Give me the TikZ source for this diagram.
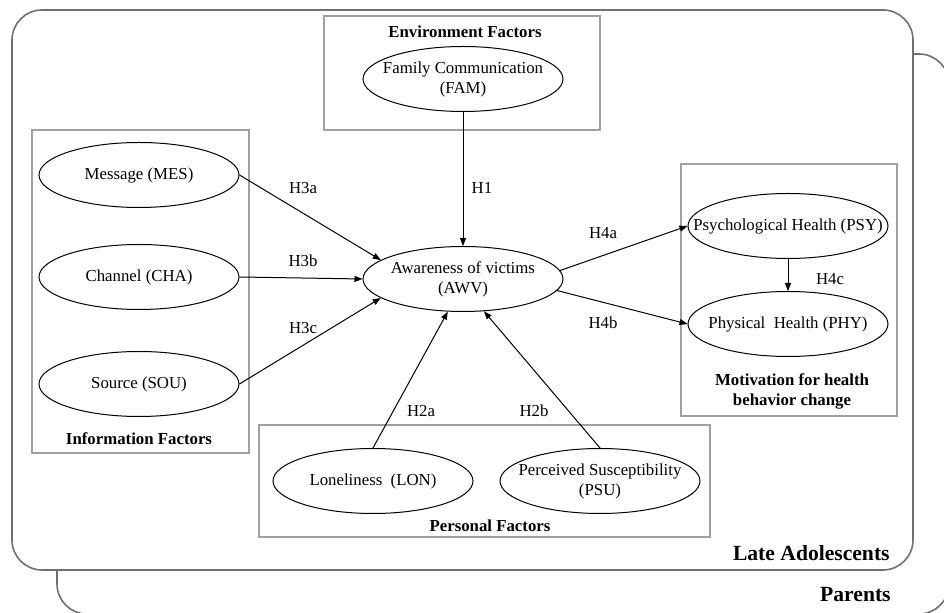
\documentclass[tikz,border=0pt]{standalone}
\usepackage{fontspec}
\setmainfont{Liberation Serif}
\usetikzlibrary{positioning,arrows.meta,shapes.geometric}
\definecolor{boxgray}{HTML}{A0A0A0}
\definecolor{framegray}{HTML}{707070}

\begin{document}
\begin{tikzpicture}[x=0.5pt, y=-0.5pt,
      font=\fontsize{8.4}{10}\selectfont,
      construto/.style={draw, ellipse, line width=0.5pt, minimum width=100pt,
                        minimum height=32.5pt, inner xsep=-12pt, inner ysep=0pt, align=center},
      grupo/.style={draw=boxgray, line width=0.6pt},
      moldura/.style={draw=framegray, line width=0.8pt, rounded corners=15pt, fill=white},
      titulo/.style={font=\fontsize{8.4}{10}\selectfont\bfseries, align=center, inner sep=0pt},
      seta/.style={-{Triangle[length=4pt,width=3pt]}, line width=0.5pt},
      hip/.style={inner sep=0pt}]
    \useasboundingbox (0,0) rectangle (944,613);
    % two populations
    \draw[moldura] (57,54) rectangle (949,614);
    \draw[moldura] (12,10) rectangle (913,570);
    \node[titulo, anchor=east, font=\fontsize{10.8}{12}\selectfont\bfseries] (la) at (890,553) {Late Adolescents};
    \node[titulo, anchor=east, font=\fontsize{10.8}{12}\selectfont\bfseries] (pa) at (891,595) {Parents};
    % factor groups
    \draw[grupo] (324,16) rectangle (600,130);
    \draw[grupo] (32,130) rectangle (249,453);
    \draw[grupo] (681,164) rectangle (897,416);
    \draw[grupo] (259,425) rectangle (710,537);
    \node[titulo] (envt) at (465,32) {Environment Factors};
    \node[titulo] (inft) at (139,439) {Information Factors};
    \node[titulo] (mott) at (792,391) {Motivation for health\\behavior change};
    \node[titulo] (pert) at (490,526) {Personal Factors};
    % constructs
    \node[construto] (fam) at (463,79) {Family Communication\\(FAM)};
    \node[construto] (mes) at (139,175) {Message (MES)};
    \node[construto] (cha) at (139,277) {Channel (CHA)};
    \node[construto] (sou) at (139,384) {Source (SOU)};
    \node[construto] (awv) at (463,279) {Awareness of victims\\(AWV)};
    \node[construto] (psy) at (788,226) {Psychological Health (PSY)};
    \node[construto] (phy) at (788,324) {Physical\ \ Health (PHY)};
    \node[construto] (lon) at (373,481) {Loneliness\ \ (LON)};
    \node[construto] (psu) at (600,481) {Perceived Susceptibility\\(PSU)};
    % hypotheses
    \draw[seta] (fam) -- (awv);
    \draw[seta] (mes.east) -- (awv.167);
    \draw[seta] (cha.east) -- (awv.west);
    \draw[seta] (sou.east) -- (awv.193);
    \draw[seta] (lon.north) -- (awv.245);
    \draw[seta] (psu.north) -- (awv.303);
    \draw[seta] (awv.5) -- (psy.west);
    \draw[seta] (awv.353) -- (phy.west);
    \draw[seta] (psy) -- (phy);
    \node[hip] (h1) at (482,188) {H1};
    \node[hip] (h3a) at (303,188) {H3a};
    \node[hip] (h3b) at (303,261) {H3b};
    \node[hip] (h3c) at (303,328) {H3c};
    \node[hip] (h2a) at (421,411) {H2a};
    \node[hip] (h2b) at (534,411) {H2b};
    \node[hip] (h4a) at (603,233) {H4a};
    \node[hip] (h4b) at (603,323) {H4b};
    \node[hip] (h4c) at (830,279) {H4c};
  \end{tikzpicture}
\end{document}
